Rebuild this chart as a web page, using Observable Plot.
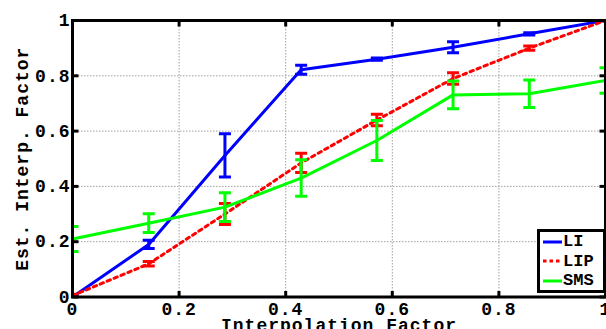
<!DOCTYPE html>
<html>
<head>
<meta charset="utf-8">
<script src="https://cdn.jsdelivr.net/npm/d3@7"></script>
<script src="https://cdn.jsdelivr.net/npm/@observablehq/plot@0.6"></script>
<style>
  html, body { margin: 0; padding: 0; background: white; }
  #wrap { position: relative; width: 606px; height: 329px; overflow: hidden; }
  .legend { position: absolute; left: 537px; top: 229px; width: 63px; height: 58px;
    border: 3px solid black; background: white;
    font-family: "Liberation Mono", monospace; font-weight: bold; font-size: 17px; }
  .legend .row { display: flex; align-items: center; height: 19.5px; }
  .legend svg { display: block; margin-left: 3px; margin-right: 1px; }
</style>
</head>
<body>
<div id="wrap"></div>
<script>
// ---- data ----
const interp = [0, 0.143, 0.286, 0.429, 0.571, 0.714, 0.857, 1];
const liMean  = [0.0, 0.19, 0.512, 0.822, 0.86, 0.903, 0.952, 1.0];
const liErr   = [0.0, 0.015, 0.078, 0.016, 0.004, 0.02, 0.004, 0.0];
const lipMean = [0.005, 0.12, 0.30, 0.485, 0.64, 0.79, 0.90, 1.0];
const lipErr  = [0.005, 0.008, 0.038, 0.035, 0.021, 0.021, 0.008, 0.0];
const smsMean = [0.21, 0.267, 0.325, 0.43, 0.566, 0.731, 0.735, 0.783];
const smsErr  = [0.045, 0.034, 0.052, 0.066, 0.072, 0.05, 0.05, 0.046];
const seriesNames = ["LI", "LIP", "SMS"];
const seriesColors = ["#0000ff", "#ff0000", "#00ff00"];
const xTicks = [0, 0.2, 0.4, 0.6, 0.8, 1];
const yTicks = [0, 0.2, 0.4, 0.6, 0.8, 1];
const xTitle = "Interpolation Factor";
const yTitle = "Est. Interp. Factor";

const toRows = (mean, err) => interp.map((x, i) => ({x, y: mean[i], lo: mean[i] - err[i], hi: mean[i] + err[i]}));
const series = [toRows(liMean, liErr), toRows(lipMean, lipErr), toRows(smsMean, smsErr)];

const capSymbol = { draw(ctx, size) { const r = Math.sqrt(size / Math.PI); ctx.moveTo(-r, 0); ctx.lineTo(r, 0); } };
const tickSym = (dx, dy) => ({ draw(ctx, size) { const r = Math.sqrt(size / Math.PI); ctx.moveTo(0, 0); ctx.lineTo(dx * r, dy * r); } });

const marks = [
  Plot.gridX(xTicks, {stroke: "#a0a0a0", strokeOpacity: 1, strokeDasharray: "1.5,1.5", strokeWidth: 1}),
  Plot.gridY(yTicks, {stroke: "#a0a0a0", strokeOpacity: 1, strokeDasharray: "1.5,1.5", strokeWidth: 1}),
];
series.forEach((rows, i) => {
  const c = seriesColors[i];
  const dash = i === 1 ? "3.5,4" : null;
  marks.push(Plot.line(rows, {x: "x", y: "y", stroke: c, strokeWidth: 3, strokeDasharray: dash, clip: "frame"}));
  marks.push(Plot.ruleX(rows, {x: "x", y1: "lo", y2: "hi", stroke: c, strokeWidth: 3, clip: "frame"}));
  marks.push(Plot.dot(rows, {x: "x", y: "lo", symbol: capSymbol, r: 6, stroke: c, strokeWidth: 3, clip: "frame"}));
  marks.push(Plot.dot(rows, {x: "x", y: "hi", symbol: capSymbol, r: 6, stroke: c, strokeWidth: 3, clip: "frame"}));
});
const fmt = d => String(d);
marks.push(
  Plot.axisX(xTicks, {anchor: "bottom", tickSize: 0, tickPadding: 5, tickFormat: fmt, label: null}),
  Plot.axisY(yTicks, {anchor: "left", tickSize: 0, tickPadding: 2, tickFormat: fmt, label: null}),
  Plot.frame({stroke: "black", strokeWidth: 3}),
  Plot.dot(xTicks, {x: d => d, frameAnchor: "bottom", symbol: tickSym(0, -1), r: 6, stroke: "black", strokeWidth: 3}),
  Plot.dot(xTicks, {x: d => d, frameAnchor: "top", symbol: tickSym(0, 1), r: 6, stroke: "black", strokeWidth: 3}),
  Plot.dot(yTicks, {y: d => d, frameAnchor: "left", symbol: tickSym(1, 0), r: 6, stroke: "black", strokeWidth: 3}),
  Plot.dot(yTicks, {y: d => d, frameAnchor: "right", symbol: tickSym(-1, 0), r: 6, stroke: "black", strokeWidth: 3}),
  Plot.text([xTitle], {frameAnchor: "bottom", dy: 28, textAnchor: "middle", lineAnchor: "middle"}),
  Plot.text([yTitle], {frameAnchor: "left", dx: -50, rotate: -90, textAnchor: "middle", lineAnchor: "middle"})
);

const chart = Plot.plot({
  width: 606, height: 329,
  marginLeft: 72, marginRight: 1, marginTop: 20, marginBottom: 32.5,
  x: {domain: [0, 1], axis: null},
  y: {domain: [0, 1], axis: null},
  style: {fontFamily: "'Liberation Mono', monospace", fontWeight: "bold", fontSize: "18px", letterSpacing: "1px", background: "white", color: "black"},
  marks
});
const wrap = document.getElementById("wrap");
wrap.appendChild(chart);

// legend overlay
const leg = document.createElement("div");
leg.className = "legend";
seriesNames.forEach((name, i) => {
  const row = document.createElement("div");
  row.className = "row";
  const s = d3.create("svg").attr("width", 19).attr("height", 6);
  s.append("line").attr("x1", 0).attr("x2", 19).attr("y1", 3).attr("y2", 3)
    .attr("stroke", seriesColors[i]).attr("stroke-width", 3)
    .attr("stroke-dasharray", i === 1 ? "3.5,3" : null);
  row.appendChild(s.node());
  const t = document.createElement("span");
  t.textContent = name;
  row.appendChild(t);
  leg.appendChild(row);
});
wrap.appendChild(leg);
</script>
</body>
</html>
